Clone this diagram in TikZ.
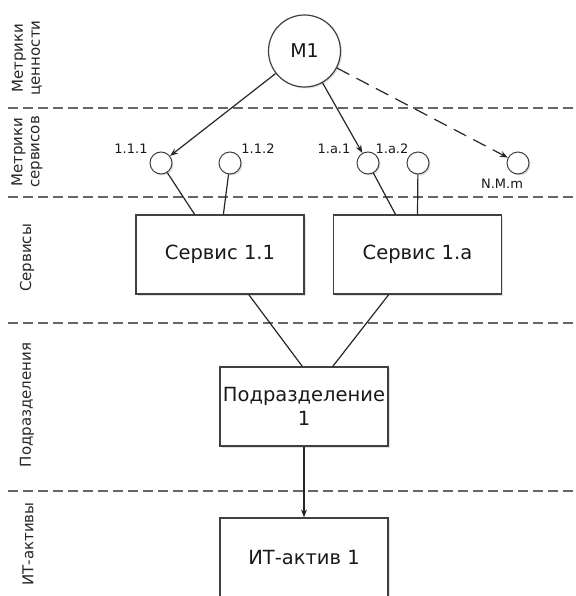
\documentclass[tikz,border=0pt]{standalone}
\usepackage{fontspec}
\setmainfont{DejaVu Sans}
\usetikzlibrary{arrows.meta, calc, shadows}

\begin{document}
\begin{tikzpicture}[x=1pt, y=-1pt,
    shade/.style={drop shadow={opacity=0.25, shadow xshift=1.5pt, shadow yshift=-1.5pt}},
    box/.style={draw=black!75, fill=white, line width=1.2pt, minimum width=168pt,
      minimum height=79pt, inner sep=0pt, align=center, text=black!90,
      font=\fontsize{19.5}{24}\selectfont, shade},
    metric/.style={circle, draw=black!75, fill=white, line width=1pt,
      minimum size=22pt, inner sep=0pt, shade},
    value/.style={circle, draw=black!75, fill=white, line width=1.2pt,
      minimum size=72pt, inner sep=0pt, text=black!90,
      font=\fontsize{19}{22}\selectfont, shade},
    lbl/.style={inner sep=0pt, text=black!90, font=\fontsize{13}{14}\selectfont},
    side/.style={rotate=90, align=center, text=black!85, font=\fontsize{15}{17}\selectfont},
    lane/.style={draw=black!60, line width=1.8pt, dash pattern=on 10pt off 5pt},
    link/.style={draw=black!85, line width=1.2pt},
    arr/.style={link, -{Stealth[length=8pt, width=6pt]}}]

  \useasboundingbox (0,0) rectangle (575,596);
  \clip (0,0) rectangle (575,596);

  % lane borders
  \foreach \ly in {108,197,323,491}
    \draw[lane] (8,\ly) -- (575,\ly);

  % lane titles
  \node[side] (t-val) at (27,58) {Метрики\\ценности};
  \node[side] (t-met) at (27,152) {Метрики\\сервисов};
  \node[side] (t-srv) at (27,258) {Сервисы};
  \node[side] (t-dep) at (27,405) {Подразделения};
  \node[side] (t-it) at (28,544) {ИТ-активы};

  % value metric
  \node[value] (m1) at (304.5,51) {M1};

  % service metrics
  \node[metric] (c111) at (161,163) {};
  \node[metric] (c112) at (230,163) {};
  \node[metric] (c1a1) at (368,163) {};
  \node[metric] (c1a2) at (418,163) {};
  \node[metric] (cnmm) at (518,163) {};
  \node[lbl] (l111) at (131,149) {1.1.1};
  \node[lbl] (l112) at (258,149) {1.1.2};
  \node[lbl] (l1a1) at (334,149) {1.a.1};
  \node[lbl] (l1a2) at (392,149) {1.a.2};
  \node[lbl] (lnmm) at (502,184) {N.M.m};

  % services, department, asset
  \node[box] (s11) at (220,254.5) {Сервис 1.1};
  \node[box] (s1a) at (417.5,254.5) {Сервис 1.a};
  \node[box] (dep) at (304,406.5) {Подразделение\\1};
  \node[box, minimum height=80pt] (it1) at (304,558) {ИТ-актив 1};

  % value metric to service metrics
  \draw[arr] (m1) -- (c111);
  \draw[arr] (m1) -- (c1a1);
  \draw[arr, dash pattern=on 14pt off 8pt] (m1) -- (cnmm);

  % service metrics to services
  \draw[link] (c111) -- ($(s11.north west)!0.35!(s11.north east)$);
  \draw[link] (c112) -- ($(s11.north west)!0.52!(s11.north east)$);
  \draw[link] (c1a1) -- ($(s1a.north west)!0.37!(s1a.north east)$);
  \draw[link] (c1a2) -- (s1a.north);

  % services to department
  \draw[link] ($(s11.south west)!0.67!(s11.south east)$) -- ($(dep.north west)!0.49!(dep.north east)$);
  \draw[link] ($(s1a.south west)!0.33!(s1a.south east)$) -- ($(dep.north west)!0.67!(dep.north east)$);

  % department to asset
  \draw[arr] (dep) -- (it1);
\end{tikzpicture}
\end{document}
